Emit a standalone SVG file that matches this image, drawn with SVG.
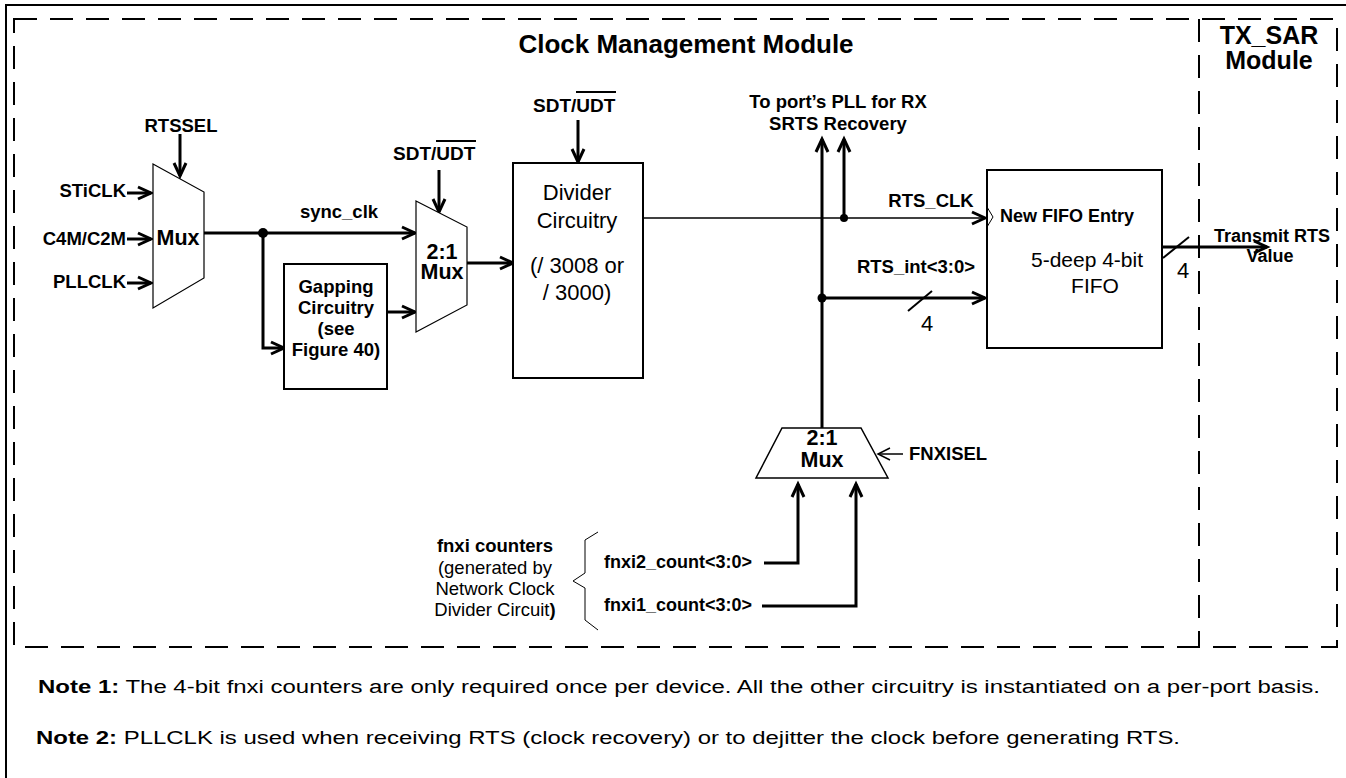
<svg xmlns="http://www.w3.org/2000/svg" width="1346" height="778" viewBox="0 0 1346 778">
<style>
text{font-family:"Liberation Sans",Arial,sans-serif;fill:#000}
.b{font-weight:bold}
.lab{font-size:18.5px;font-weight:bold}
.big{font-size:26px;font-weight:bold}
.big2{font-size:25px;font-weight:bold}
.mx{font-size:21.5px;font-weight:bold}
.reg{font-size:22px}
.note{font-size:18px}
.c{text-anchor:middle}
.e{text-anchor:end}
.w{stroke:#000;stroke-width:3;fill:none}
.t{stroke:#000;stroke-width:1.5;fill:none}
.box{stroke:#000;stroke-width:2;fill:#fff}
.mux{stroke:#000;stroke-width:1.2;fill:#fff}
.dash{stroke:#000;stroke-width:2;fill:none;stroke-dasharray:23 13}
</style>
<defs>
<marker id="ah" markerUnits="userSpaceOnUse" markerWidth="20" markerHeight="20" refX="14" refY="8" orient="auto" overflow="visible">
<path d="M1,2 L14,8 L1,14" fill="none" stroke="#000" stroke-width="3"/>
</marker>
<marker id="aht" markerUnits="userSpaceOnUse" markerWidth="20" markerHeight="20" refX="14" refY="8" orient="auto" overflow="visible">
<path d="M2,2 L14,8 L2,14" fill="none" stroke="#000" stroke-width="1.5"/>
</marker>
</defs>
<rect width="1346" height="778" fill="#fff"/>
<g id="frame">
<path d="M5,5 H1346 M6,5 V778" stroke="#000" stroke-width="2" fill="none"/>
<rect class="dash" x="14" y="19" width="1323" height="628"/>
<path class="dash" d="M1199,19 V647"/>
<text class="big c" x="686" y="53">Clock Management Module</text>
<text class="big2 c" x="1269" y="44">TX_SAR</text>
<text class="big2 c" x="1269" y="69">Module</text>
</g>
<g id="connectors">
<path class="w" d="M127,193 H151" marker-end="url(#ah)"/>
<path class="w" d="M127,239 H151" marker-end="url(#ah)"/>
<path class="w" d="M127,283 H151" marker-end="url(#ah)"/>
<path class="w" d="M180,134 V176" marker-end="url(#ah)"/>
<path class="w" d="M204,233 H415" marker-end="url(#ah)"/>
<circle cx="263" cy="233" r="5" fill="#000"/>
<path class="w" d="M263,233 V348 H284" marker-end="url(#ah)"/>
<path class="w" d="M387,312 H415" marker-end="url(#ah)"/>
<path class="w" d="M439,170 V212" marker-end="url(#ah)"/>
<path class="w" d="M467,263 H513" marker-end="url(#ah)"/>
<path class="w" d="M578,120 V162" marker-end="url(#ah)"/>
<path class="t" d="M643,218 H985" marker-end="url(#ah)"/>
<path class="w" d="M822,428 V139" marker-end="url(#ah)"/>
<path class="w" d="M844,218 V139" marker-end="url(#ah)"/>
<circle cx="844" cy="218" r="4" fill="#000"/>
<circle cx="822" cy="298" r="4.5" fill="#000"/>
<path class="w" d="M822,298 H985" marker-end="url(#ah)"/>
<path stroke="#000" stroke-width="2" d="M908,311 L932,291"/>
<path class="w" d="M1162,247 H1267" marker-end="url(#ah)"/>
<path stroke="#000" stroke-width="2" d="M1163,258 L1189,237"/>
<path class="t" d="M903,454 H878" marker-end="url(#aht)"/>
<path class="w" d="M764,563 H798 V484" marker-end="url(#ah)"/>
<path class="w" d="M762,606 H856 V484" marker-end="url(#ah)"/>
</g>
<g id="mux1">
<polygon class="mux" points="153,164 204,192 204,278 153,308"/>
<text class="mx c" x="178" y="245">Mux</text>
</g>
<g id="inputs">
<text class="lab e" x="126" y="197">STiCLK</text>
<text class="lab e" x="126" y="245">C4M/C2M</text>
<text class="lab e" x="126" y="288">PLLCLK</text>
<text class="lab c" x="181" y="132">RTSSEL</text>
<text class="lab c" x="339" y="218">sync_clk</text>
</g>
<g id="gapping">
<rect class="box" x="284" y="264" width="103" height="125"/>
<text class="lab c" x="336" y="293">Gapping</text>
<text class="lab c" x="336" y="314">Circuitry</text>
<text class="lab c" x="336" y="335">(see</text>
<text class="lab c" x="336" y="356">Figure 40)</text>
</g>
<g id="mux2">
<polygon class="mux" points="416,201 467,227 467,305 416,332"/>
<text class="mx c" x="442" y="259">2:1</text>
<text class="mx c" x="442" y="279">Mux</text>
<text class="b" font-size="19" x="393" y="160">SDT/UDT</text>
<path d="M436,141 H476" stroke="#000" stroke-width="2"/>
</g>
<g id="divider">
<rect class="box" x="513" y="163" width="130" height="215"/>
<text class="reg c" x="577" y="200">Divider</text>
<text class="reg c" x="577" y="228">Circuitry</text>
<text class="reg c" x="577" y="273">(/ 3008 or</text>
<text class="reg c" x="577" y="300">/ 3000)</text>
<text class="b" font-size="19" x="533" y="112">SDT/UDT</text>
<path d="M576,92 H616" stroke="#000" stroke-width="2"/>
</g>
<g id="rts-labels">
<text class="lab c" x="838" y="108">To port’s PLL for RX</text>
<text class="lab c" x="838" y="130">SRTS Recovery</text>
<text class="lab c" x="931" y="207">RTS_CLK</text>
<text class="lab c" x="916" y="273">RTS_int&lt;3:0&gt;</text>
<text class="reg c" x="927" y="331">4</text>
</g>
<g id="fifo">
<rect class="box" x="987" y="170" width="175" height="178"/>
<polyline points="987,207 993,217 987,227" fill="none" stroke="#000" stroke-width="1"/>
<text class="b c" font-size="18" x="1067" y="222">New FIFO Entry</text>
<text class="c" font-size="21" x="1087" y="267">5-deep 4-bit</text>
<text class="c" font-size="21" x="1095" y="293">FIFO</text>
<text class="reg c" x="1183" y="278">4</text>
<text class="b c" font-size="18" x="1272" y="242">Transmit RTS</text>
<text class="b c" font-size="18" x="1270" y="262">Value</text>
</g>
<g id="mux3">
<polygon points="782,428 861,428 888,478 756,478" fill="#fff" stroke="#000" stroke-width="1.5"/>
<text class="mx c" x="822" y="445">2:1</text>
<text class="mx c" x="822" y="467">Mux</text>
<text class="lab" x="909" y="460">FNXISEL</text>
</g>
<g id="fnxi">
<text class="b" font-size="18" x="604" y="568">fnxi2_count&lt;3:0&gt;</text>
<text class="b" font-size="18" x="604" y="611">fnxi1_count&lt;3:0&gt;</text>
<polyline points="598,532 585,540 585,573 573,581 585,588 585,620 598,630" fill="none" stroke="#000" stroke-width="1"/>
<text class="b c" font-size="18.5" x="495" y="552">fnxi counters</text>
<text class="c" font-size="18.5" x="495" y="574">(generated by</text>
<text class="c" font-size="18.5" x="495" y="595">Network Clock</text>
<text class="c" font-size="18.5" x="495" y="616">Divider Circuit<tspan class="b">)</tspan></text>
</g>
<g id="notes">
<text class="note" x="38" y="693" textLength="1282" lengthAdjust="spacingAndGlyphs"><tspan class="b">Note 1:</tspan> The 4-bit fnxi counters are only required once per device. All the other circuitry is instantiated on a per-port basis.</text>
<text class="note" x="36" y="744" textLength="1144" lengthAdjust="spacingAndGlyphs"><tspan class="b">Note 2:</tspan> PLLCLK is used when receiving RTS (clock recovery) or to dejitter the clock before generating RTS.</text>
</g>
</svg>
